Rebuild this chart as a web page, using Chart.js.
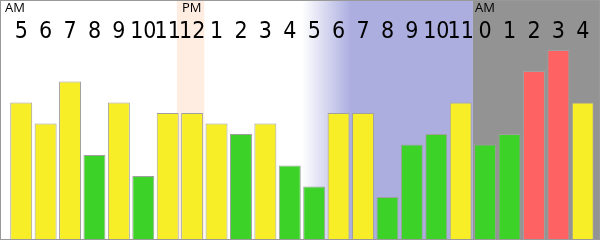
<!DOCTYPE html>
<html>
<head>
<meta charset="utf-8">
<script src="https://cdn.jsdelivr.net/npm/chart.js@4.4.1/dist/chart.umd.min.js"></script>
<style>
  html, body { margin: 0; padding: 0; background: #fff; }
  #wrap { width: 600px; height: 240px; }
</style>
</head>
<body>
<div id="wrap"><canvas id="myChart"></canvas></div>
<script>
const hours = ['5', '6', '7', '8', '9', '10', '11', '12', '1', '2', '3', '4',
               '5', '6', '7', '8', '9', '10', '11', '0', '1', '2', '3', '4'];
const counts = [13, 11, 15, 8, 13, 6, 12, 12, 11, 10, 11, 7,
                5, 12, 12, 4, 9, 10, 13, 9, 10, 16, 18, 13];
const markers = [{ index: 0, text: 'AM' }, { index: 7, text: 'PM' }, { index: 19, text: 'AM' }];

const barColor = v => v >= 16 ? '#ff6262' : (v >= 11 ? '#f8ee28' : '#3cd228');

const bandsPlugin = {
    id: 'bands',
    beforeDraw(chart) {
        const { ctx, width, height } = chart;
        const x = chart.scales.x;
        const half = (x.getPixelForValue(1) - x.getPixelForValue(0)) / 2;
        const edge = i => x.getPixelForValue(i) - half;
        ctx.save();
        ctx.fillStyle = '#ffffff';
        ctx.fillRect(0, 0, width, height);
        // noon
        ctx.fillStyle = '#ffede2';
        ctx.fillRect(edge(7) - 3, 0, edge(8) - edge(7) + 3, height);
        // evening fade
        const g = ctx.createLinearGradient(edge(12), 0, edge(14), 0);
        g.addColorStop(0, '#ffffff');
        g.addColorStop(1, '#acaee0');
        ctx.fillStyle = g;
        ctx.fillRect(edge(12), 0, edge(19) - edge(12), height);
        // night
        ctx.fillStyle = '#939393';
        ctx.fillRect(edge(19), 0, width - edge(19), height);
        ctx.restore();
    },
    afterDraw(chart) {
        const { ctx, width, height } = chart;
        const x = chart.scales.x;
        const half = (x.getPixelForValue(1) - x.getPixelForValue(0)) / 2;
        ctx.save();
        ctx.fillStyle = '#000';
        ctx.font = '13px "Open Sans"';
        ctx.textBaseline = 'top';
        markers.forEach(m => {
            const left = m.index === 0 ? 5 : x.getPixelForValue(m.index) - half + 2;
            ctx.fillText(m.text, left, 2);
        });
        ctx.strokeStyle = '#999';
        ctx.lineWidth = 1;
        ctx.strokeRect(0.5, 0.5, width - 1, height - 1);
        ctx.restore();
    }
};

const ctx = document.getElementById('myChart').getContext('2d');
const myChart = new Chart(ctx, {
    type: 'bar',
    data: {
        labels: hours,
        datasets: [{
            data: counts,
            backgroundColor: counts.map(barColor),
            borderColor: '#a0a0a0',
            borderWidth: 1,
            barPercentage: 0.9,
            categoryPercentage: 1
        }]
    },
    options: {
        responsive: true,
        maintainAspectRatio: false,
        animation: false,
        layout: { padding: { left: 9, right: 5, top: 0, bottom: 1 } },
        plugins: {
            legend: { display: false },
            tooltip: { enabled: false }
        },
        scales: {
            x: {
                position: 'top',
                grid: { display: false },
                border: { display: false },
                ticks: {
                    color: '#000',
                    font: { family: '"DejaVu Sans Condensed", "Open Sans"', size: 23 },
                    maxRotation: 0,
                    autoSkip: false,
                    padding: -4
                },
                afterFit(scale) { scale.height = 50; }
            },
            y: {
                display: false,
                min: 0,
                max: 18
            }
        }
    },
    plugins: [bandsPlugin]
});
</script>
</body>
</html>
